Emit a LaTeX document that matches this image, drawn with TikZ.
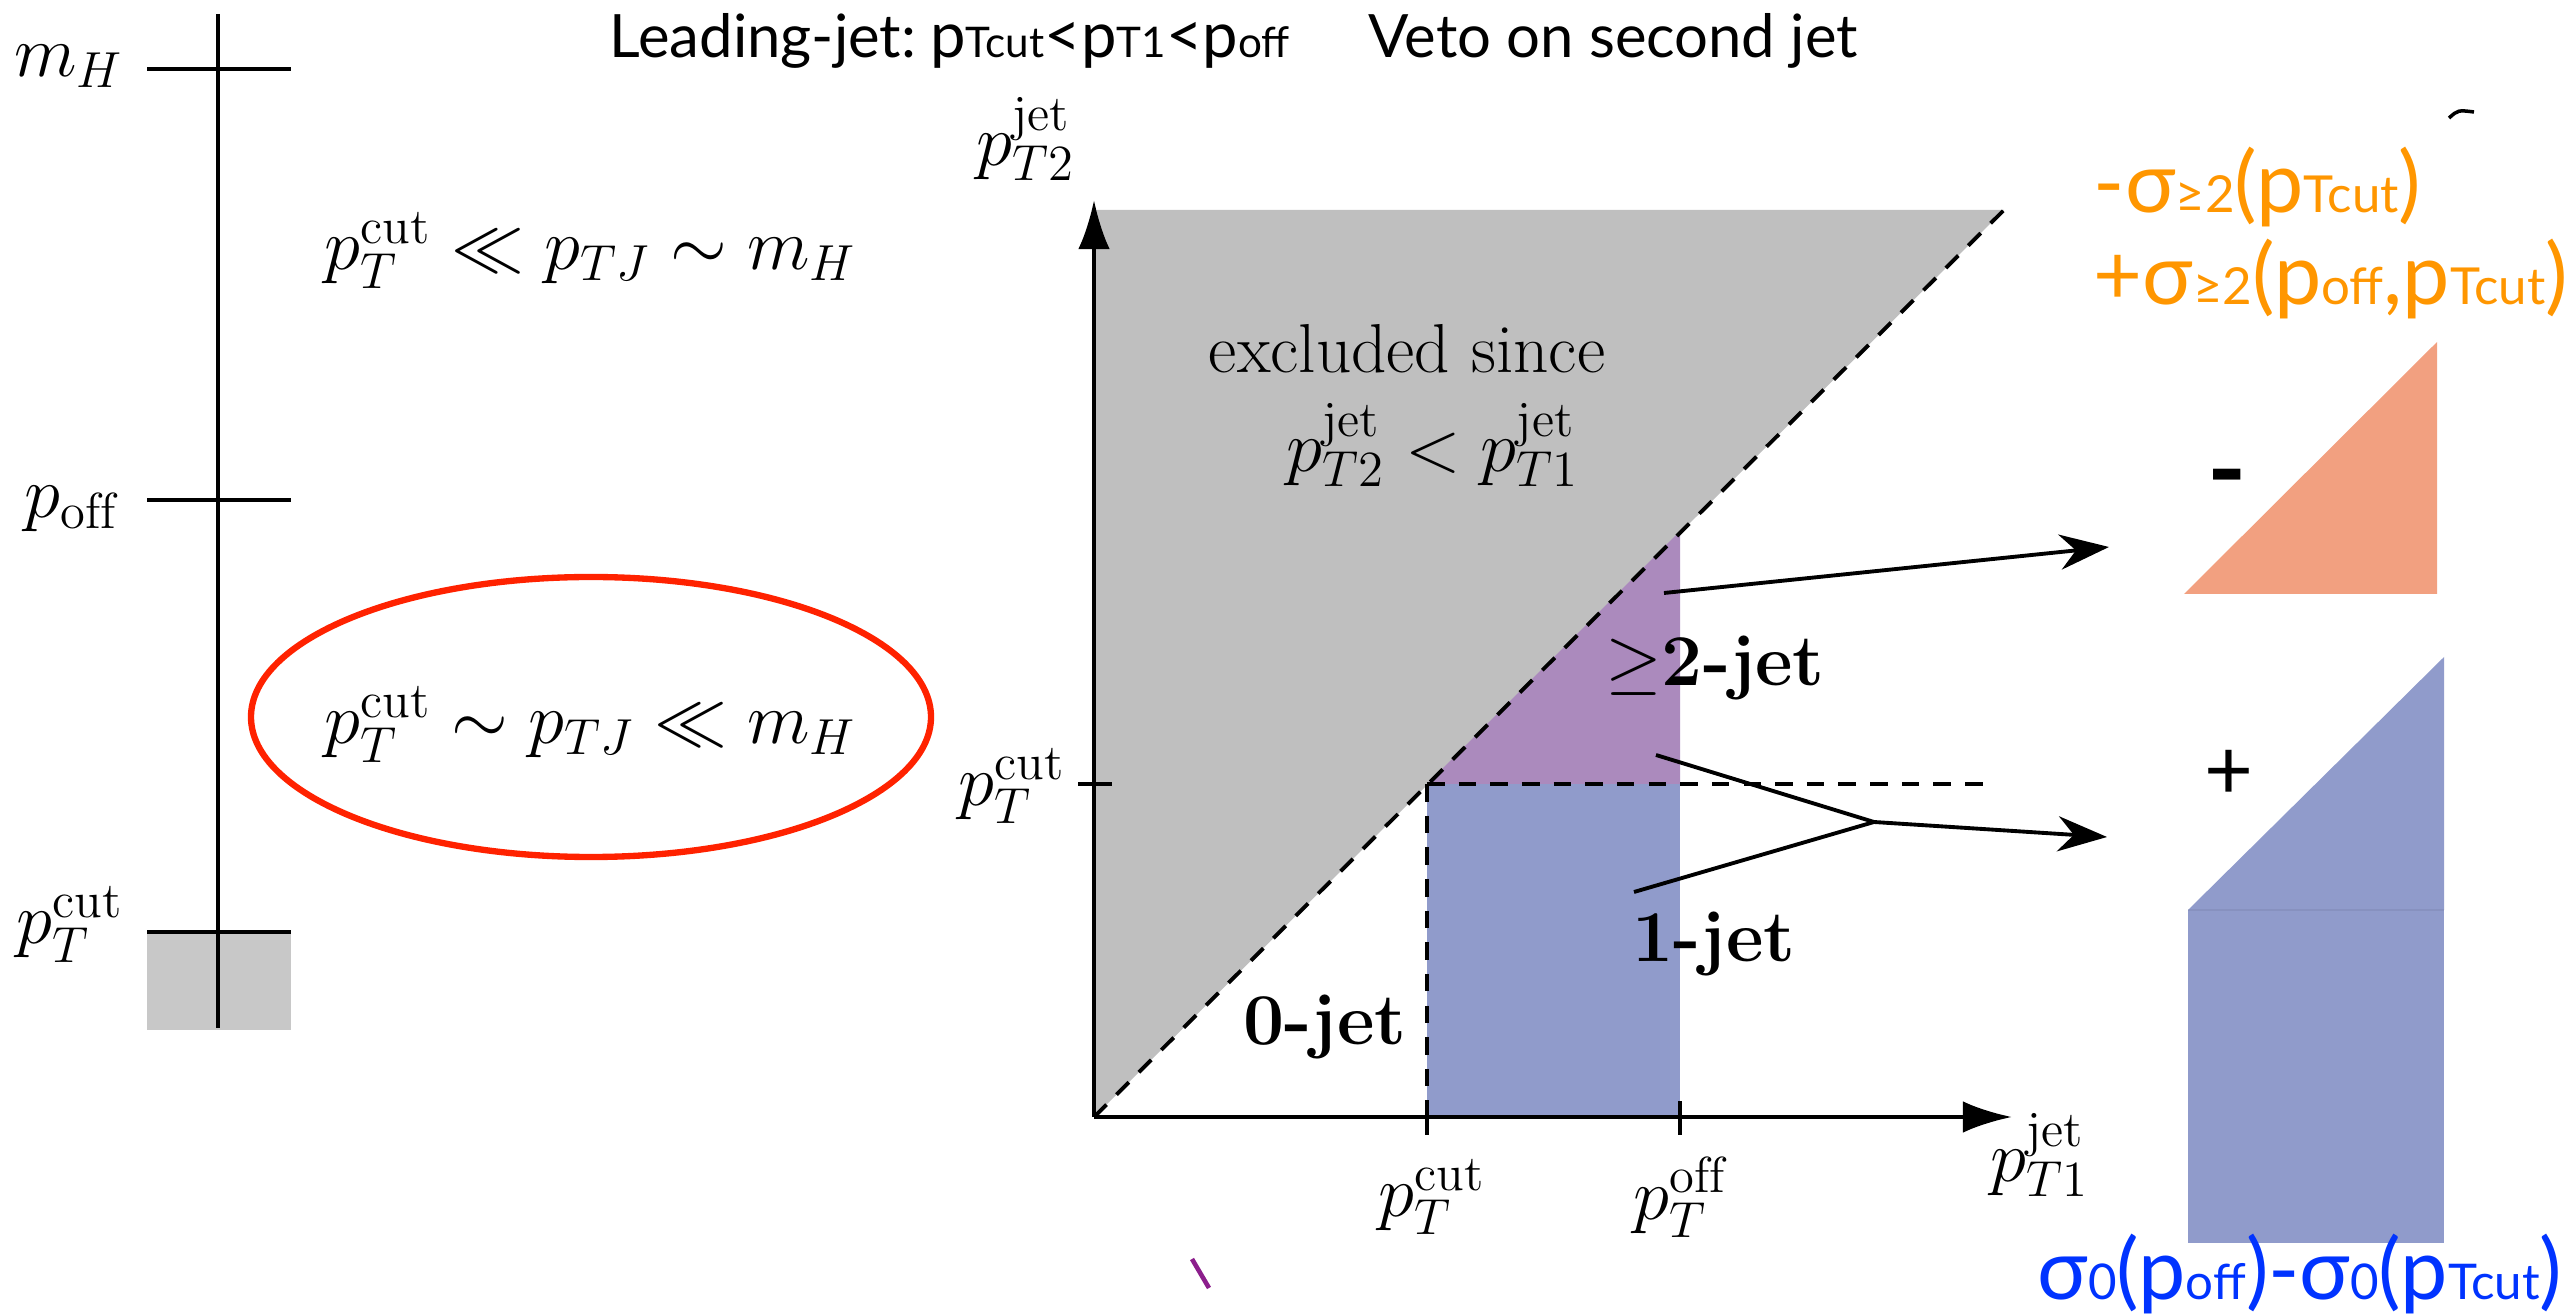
\documentclass[tikz,border=0pt]{standalone}
\usepackage{fontspec}
\usepackage{xcolor}
\usetikzlibrary{arrows.meta, positioning, calc}
\newfontfamily\gill{Lato}
\definecolor{exclgray}{RGB}{191,191,191}
\definecolor{boxgray}{RGB}{200,200,200}
\definecolor{twojet}{RGB}{171,138,189}
\definecolor{onejet}{RGB}{144,155,203}
\definecolor{salmon}{RGB}{242,160,128}
\definecolor{annorange}{RGB}{255,150,0}
\definecolor{annblue}{RGB}{0,51,255}
\definecolor{ringred}{RGB}{255,34,0}
\definecolor{strokepurple}{RGB}{140,30,140}
\newcommand{\gsz}[1]{\fontsize{#1}{#1}\selectfont}

\tikzset{
  axis/.style={line width=1.2pt},
  guide/.style={line width=1.1pt, dash pattern=on 5pt off 4pt},
  conn/.style={line width=1.1pt, -{Stealth[length=14pt,width=10pt]}},
  mathlbl/.style={inner sep=0pt, font=\huge},
  jetlbl/.style={inner sep=0pt, font=\huge\bfseries},
  annot/.style={inner sep=0pt, font=\gill\gsz{24}},
}

\begin{document}
\begin{tikzpicture}[x=0.01cm, y=-0.01cm]
  \useasboundingbox (0,0) rectangle (2572,1316);

  % Scale bar on the left
  \fill[boxgray] (147,932) rectangle (291,1030);
  \draw[axis] (218,14) -- (218,1028);
  \foreach \y in {69,500,932}
    \draw[axis] (147,\y) -- (291,\y);
  \node[mathlbl, anchor=base east] (mH) at (124,77) {$m_H$};
  \node[mathlbl, anchor=base east] (poff) at (118,518) {$p_{\rm off}$};
  \node[mathlbl, anchor=base east] (pcut) at (124,944) {$p_T^{\rm cut}$};
  \node[mathlbl, anchor=base west] (hier) at (324,270) {$p_T^{\rm cut}\ll p_{TJ}\sim m_H$};
  \node[mathlbl, anchor=base west] (sudak) at (324,744) {$p_T^{\rm cut}\sim p_{TJ}\ll m_H$};
  \draw[ringred, line width=1.8pt] (591,717) ellipse (340 and 140);

  % Title line
  \node[inner sep=0pt, anchor=base west, font=\gill] (lead) at (609,58)
    {\gsz{17}Leading-jet:\gsz{12} \gsz{18}p\gsz{12}Tcut\gsz{18}<p\gsz{12}T1\gsz{18}<p\gsz{12}off};
  \node[inner sep=0pt, anchor=base west, font=\gill\gsz{17}] (veto) at (1368,58) {Veto on second jet};

  % Phase space of the two jets
  \coordinate (O) at (1094,1117);
  \coordinate (D) at (2004,210);
  \coordinate (C) at (1427,784);
  \fill[exclgray] (O) -- (1094,210) -- (D) -- cycle;
  \fill[twojet] (C) -- (1680,784) -- (1680,531) -- cycle;
  \fill[onejet] (C) rectangle (1680,1117);
  \draw[guide] (O) -- (D);
  \draw[guide] (C) -- (1994,784);
  \draw[guide] (C) -- (1427,1117);
  \draw[axis, -{Latex[length=14pt,width=9pt]}] (O) -- (1094,200);
  \draw[axis, -{Latex[length=14pt,width=9pt]}] (O) -- (2012,1117);
  \draw[axis] (1078,784) -- (1112,784);
  \draw[axis] (1427,1117) -- (1427,1135);
  \draw[axis] (1680,1101) -- (1680,1135);

  \node[mathlbl] (ylab) at (1026,139) {$p_{T2}^{\rm jet}$};
  \node[mathlbl] (xlab) at (2040,1155) {$p_{T1}^{\rm jet}$};
  \node[mathlbl, anchor=east] (ycut) at (1066,786) {$p_T^{\rm cut}$};
  \node[mathlbl] (xcut) at (1432,1197) {$p_T^{\rm cut}$};
  \node[mathlbl] (xoff) at (1680,1197) {$p_T^{\rm off}$};

  \node[inner sep=0pt, font=\gsz{19.7}] (excl) at (1407,349) {excluded since};
  \node[mathlbl] (order) at (1433,445) {$p_{T2}^{\rm jet}<p_{T1}^{\rm jet}$};
  \node[jetlbl] (two) at (1715,668) {$\geq$2-jet};
  \node[jetlbl] (one) at (1714,944) {1-jet};
  \node[jetlbl] (zero) at (1325,1027) {0-jet};

  % Connectors to the pieces on the right
  \coordinate (twoA) at (1664,593);
  \coordinate (twoB) at (1656,755);
  \coordinate (oneA) at (1634,892);
  \coordinate (fork) at (1874,822);
  \coordinate (tipm) at (2109,547);
  \coordinate (tipp) at (2107,837);
  \draw[conn] (twoA) -- (tipm);
  \draw[line width=1.1pt] (twoB) -- (fork) -- (oneA);
  \draw[conn] (fork) -- (tipp);

  % Pieces on the right
  \fill[salmon] (2184,594) -- (2437,342) -- (2437,594) -- cycle;
  \fill[onejet] (2188,910) -- (2444,657) -- (2444,910) -- cycle;
  \fill[onejet] (2188,910) rectangle (2444,1243);
  \draw[onejet!85!black, line width=0.4pt, opacity=0.4] (2188,910) -- (2444,910);
  \node[inner sep=0pt, font=\gill\bfseries\gsz{30}] (minus) at (2227,488) {-};
  \node[inner sep=0pt, font=\gill\gsz{24}] (plus) at (2229,775) {+};

  \node[annot, text=annorange, anchor=base west] (subl) at (2093,213)
    {-σ{\gsz{14.5}≥2}(p{\gsz{14.5}Tcut})};
  \node[annot, text=annorange, anchor=base west] (addl) at (2093,305)
    {+σ{\gsz{14.5}≥2}(p{\gsz{14.5}off},p{\gsz{14.5}Tcut})};
  \node[annot, text=annblue, anchor=base west] (zerol) at (2037,1299)
    {σ{\gsz{14}0}(p{\gsz{14}off})-σ{\gsz{14}0}(p{\gsz{14}Tcut})};

  % Stray marks
  \draw[strokepurple, line width=1.3pt] (1192,1259) -- (1209,1288);
  \draw[line width=1pt] (2449,118) .. controls (2458,110) .. (2474,112);
\end{tikzpicture}
\end{document}
